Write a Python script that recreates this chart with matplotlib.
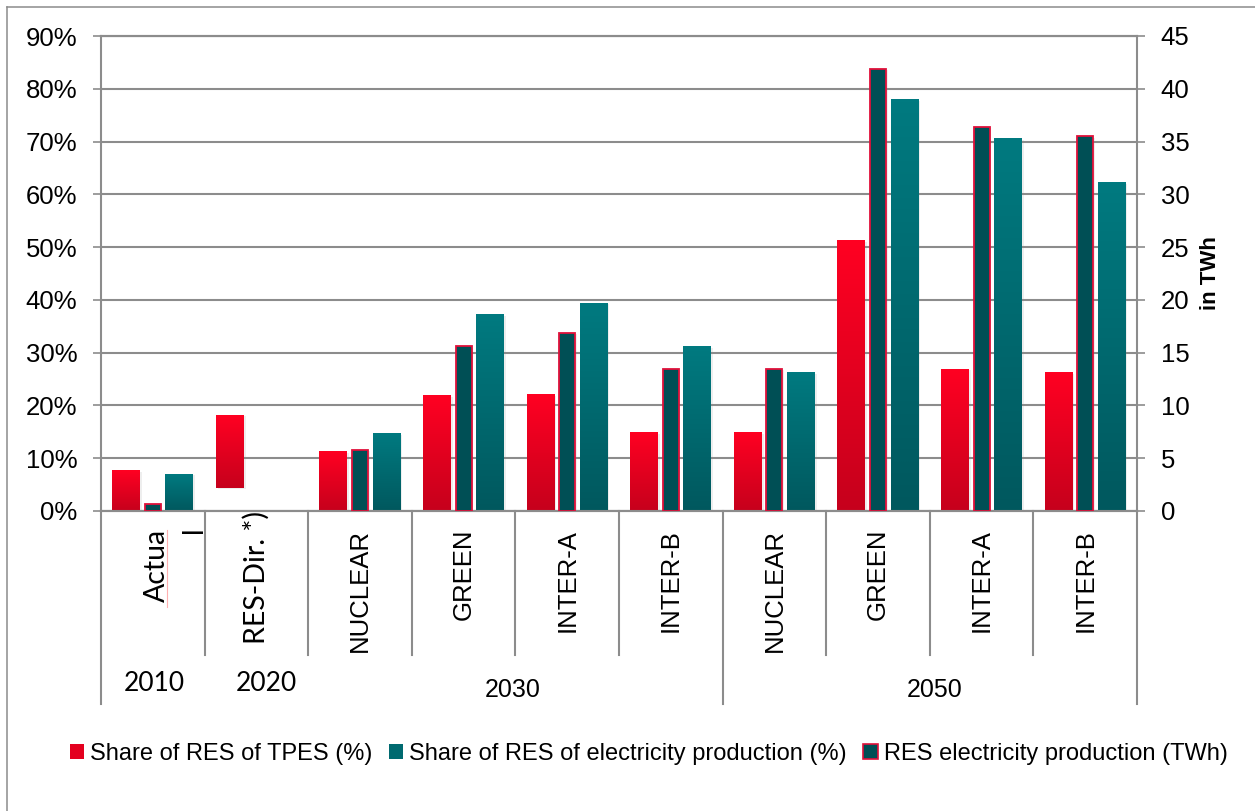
import numpy as np
import matplotlib
matplotlib.use('Agg')
import matplotlib.pyplot as plt
import matplotlib.patheffects as pe
from matplotlib.colors import LinearSegmentedColormap
from matplotlib.patches import Patch
from matplotlib.lines import Line2D

# data
categories = ['Actual', 'RES-Dir. *)', 'NUCLEAR', 'GREEN', 'INTER-A', 'INTER-B',
              'NUCLEAR', 'GREEN', 'INTER-A', 'INTER-B']
years = ['2010', '2020', '2030', '2050']
tpes_share = [7.6, 18.2, 11.2, 21.8, 22.0, 14.8, 14.8, 51.3, 26.9, 26.3]   # %
tpes_base = [0, 4.4, 0, 0, 0, 0, 0, 0, 0, 0]                              # floating bar in 2020
elec_share = [7.0, np.nan, 14.6, 37.2, 39.4, 31.1, 26.3, 77.9, 70.5, 62.3]  # %
res_twh = [0.7, np.nan, 5.8, 15.6, 16.9, 13.5, 13.5, 41.9, 36.4, 35.5]     # TWh

labels = ['Share of RES of TPES (%)',
          'Share of RES of electricity production (%)',
          'RES electricity production (TWh)']

plt.rcParams['font.family'] = ['Liberation Sans', 'DejaVu Sans']

GRID = '#8c8c8c'
RED_TOP, RED_BOT = '#ff0022', '#c6001c'
TEAL_TOP, TEAL_BOT = '#007a80', '#00585e'
DARK = '#004f55'
EDGE = '#e0103a'

W, H = 1255, 811
fig = plt.figure(figsize=(W / 100, H / 100), dpi=100)
ax = fig.add_axes([101 / W, 1 - 511 / H, (1137 - 101) / W, 475 / H])
ax2 = ax.twinx()

x = np.arange(len(categories))
heights = np.array(tpes_share) - np.array(tpes_base)
shadow = [pe.SimplePatchShadow(offset=(1.2, -1), shadow_rgbFace='#909090', alpha=0.15), pe.Normal()]


def fill_gradient(axis, bars, top, bottom):
    cmap = LinearSegmentedColormap.from_list('g', [bottom, top])
    grad = np.linspace(0, 1, 128).reshape(-1, 1)
    for b in bars:
        h = b.get_height()
        if not np.isfinite(h) or h == 0:
            continue
        x0, y0 = b.get_xy()
        axis.imshow(grad, extent=[x0, x0 + b.get_width(), y0, y0 + h], origin='lower',
                    aspect='auto', cmap=cmap, interpolation='bilinear', zorder=3.1)


red = ax.bar(x - 0.256, heights, width=0.27, bottom=tpes_base, color=RED_BOT,
             zorder=3, path_effects=shadow)
teal = ax.bar(x + 0.256, elec_share, width=0.27, color=TEAL_BOT, zorder=3, path_effects=shadow)
fill_gradient(ax, red, RED_TOP, RED_BOT)
fill_gradient(ax, teal, TEAL_TOP, TEAL_BOT)

ax2.bar(x, res_twh, width=0.155, color=DARK, edgecolor=EDGE, linewidth=1.3,
        zorder=3, path_effects=shadow)

ax.set_xlim(-0.5, 9.5)
ax.set_ylim(0, 90)
ax2.set_ylim(0, 45)
ax.set_xticks([])
ax.set_yticks(range(0, 91, 10))
ax.set_yticklabels([f'{v}%' for v in range(0, 91, 10)])
ax2.set_yticks(range(0, 46, 5))
ax.tick_params(axis='y', length=6, width=1.2, color=GRID, pad=11, labelsize=18.5)
ax2.tick_params(axis='y', length=6, width=1.2, color=GRID, pad=11, labelsize=18.5)
ax.yaxis.grid(True, color=GRID, lw=1.5)
ax.set_axisbelow(True)
for a in (ax, ax2):
    for s in a.spines.values():
        s.set_color(GRID)
        s.set_linewidth(1.5)
ax.spines['right'].set_visible(False)
ax2.spines['left'].set_visible(False)
ax2.set_ylabel('in TWh', fontsize=16, fontweight='bold', labelpad=8)

# category axis (two levels)
xa = ax.get_xaxis_transform()


def ay(px):
    return (511 - px) / 475


for b in np.arange(-0.5, 10, 1.0):
    long_line = b in (-0.5, 5.5, 9.5)
    ax.plot([b, b], [0, ay(704 if long_line else 655)], color=GRID, lw=1.5,
            transform=xa, clip_on=False)

calibri = ['Lato', 'DejaVu Sans']
ax.text(0.04, ay(529), 'Actua', rotation=90, ha='center', va='top', fontsize=20.5,
        family=calibri, transform=xa)
ax.text(0.40, ay(526), 'l', rotation=90, ha='center', va='top', fontsize=20,
        family=calibri, transform=xa)
ax.plot([0.135, 0.135], [ay(530), ay(607)], color='#ffb0b0', lw=0.8, transform=xa, clip_on=False)
ax.text(1.0, ay(578), categories[1], rotation=90, ha='center', va='center', fontsize=20.5,
        family=calibri, transform=xa)
for i in range(2, len(categories)):
    ax.text(x[i], ay(529), categories[i], rotation=90, ha='center', va='top',
            fontsize=18.5, transform=xa)

ax.text(0.01, ay(683), years[0], ha='center', va='center', fontsize=19, family=calibri, transform=xa)
ax.text(1.10, ay(683), years[1], ha='center', va='center', fontsize=19, family=calibri, transform=xa)
ax.text(3.47, ay(690), years[2], ha='center', va='center', fontsize=18, transform=xa)
ax.text(7.55, ay(690), years[3], ha='center', va='center', fontsize=18, transform=xa)

handles = [Patch(facecolor='#e4001f'), Patch(facecolor='#006a70'),
           Patch(facecolor=DARK, edgecolor=EDGE, linewidth=1.2)]
fig.legend(handles, labels, loc='center', bbox_to_anchor=(0.517, 1 - 754 / H), ncol=3,
           frameon=False, fontsize=17, handlelength=0.6, handleheight=0.6,
           handletextpad=0.25, columnspacing=0.7)

# outer chart frame (left and top edges visible)
fig.add_artist(Line2D([7 / W, 7 / W], [0, 1 - 7 / H], transform=fig.transFigure, color=GRID, lw=1.1))
fig.add_artist(Line2D([7 / W, 1], [1 - 7 / H, 1 - 7 / H], transform=fig.transFigure, color=GRID, lw=1.1))

fig.savefig('out.png', dpi=100)
